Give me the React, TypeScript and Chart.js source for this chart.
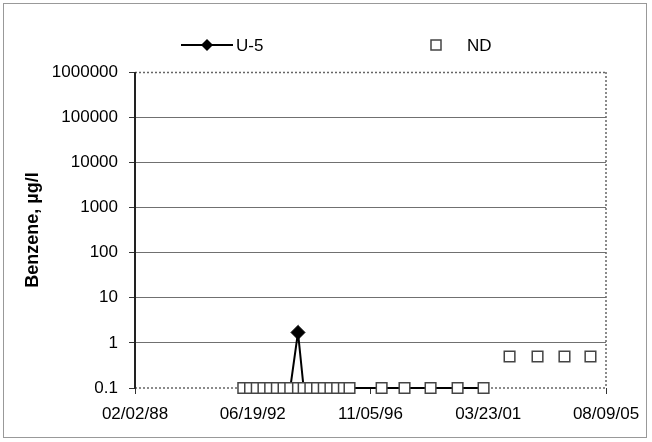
import React, { useEffect, useRef } from "react";
import { Chart, registerables } from "chart.js";

Chart.register(...registerables);

// ---- data ----
const xTickLabels = ["02/02/88", "06/19/92", "11/05/96", "03/23/01", "08/09/05"];
const yTickValues = [0.1, 1, 10, 100, 1000, 10000, 100000, 1000000];

const u5Dates = [
  "1992-02-12", "1992-05-14", "1992-08-13", "1992-11-12",
  "1993-02-11", "1993-05-13", "1993-08-12", "1993-11-11",
  "1994-02-24", "1994-05-12", "1994-08-11", "1994-11-10",
  "1995-02-09", "1995-05-11", "1995-08-10", "1995-11-09",
  "1996-01-25", "1997-04-05", "1998-02-10", "1999-01-30",
  "2000-02-01", "2001-01-19",
];
const u5Values = [
  0.1, 0.1, 0.1, 0.1,
  0.1, 0.1, 0.1, 0.1,
  1.7, 0.1, 0.1, 0.1,
  0.1, 0.1, 0.1, 0.1,
  0.1, 0.1, 0.1, 0.1,
  0.1, 0.1,
];

const ndDates = [
  "1992-02-12", "1992-05-14", "1992-08-13", "1992-11-12",
  "1993-02-11", "1993-05-13", "1993-08-12", "1993-11-11",
  "1994-02-24", "1994-05-12", "1994-08-11", "1994-11-10",
  "1995-02-09", "1995-05-11", "1995-08-10", "1995-11-09",
  "1996-01-25", "1997-04-05", "1998-02-10", "1999-01-30",
  "2000-02-01", "2001-01-19",
  "2002-01-07", "2003-01-22", "2004-01-23", "2005-01-10",
];
const ndValues = [
  0.1, 0.1, 0.1, 0.1,
  0.1, 0.1, 0.1, 0.1,
  0.1, 0.1, 0.1, 0.1,
  0.1, 0.1, 0.1, 0.1,
  0.1, 0.1, 0.1, 0.1,
  0.1, 0.1,
  0.5, 0.5, 0.5, 0.5,
];

// ---- helpers ----
const DAY = 86400000;
const isoToDays = (s: string) => {
  const [y, m, d] = s.split("-").map(Number);
  return Date.UTC(y, m - 1, d) / DAY;
};
const mdyToDays = (s: string) => {
  const [m, d, yy] = s.split("/").map(Number);
  const y = yy < 50 ? 2000 + yy : 1900 + yy;
  return Date.UTC(y, m - 1, d) / DAY;
};
const xTickValues = xTickLabels.map(mdyToDays);

const FONT = "'Liberation Sans', Arial, Helvetica, sans-serif";

const framePlugin = {
  id: "frameAndLegend",
  beforeDatasetsDraw(chart: any) {
    const { ctx, chartArea } = chart;
    const { left, right, top, bottom } = chartArea;
    ctx.save();
    // dotted top, right and bottom plot border
    ctx.strokeStyle = "#666";
    ctx.lineWidth = 1.5;
    ctx.setLineDash([2, 2]);
    ctx.beginPath();
    ctx.moveTo(left, top + 0.5);
    ctx.lineTo(right, top + 0.5);
    ctx.moveTo(right, top);
    ctx.lineTo(right, bottom);
    ctx.moveTo(left, bottom);
    ctx.lineTo(right, bottom);
    ctx.stroke();
    ctx.setLineDash([]);
    // solid left axis
    ctx.strokeStyle = "#222";
    ctx.lineWidth = 2;
    ctx.beginPath();
    ctx.moveTo(left, top);
    ctx.lineTo(left, bottom + 1);
    ctx.stroke();
    ctx.restore();
  },
  afterDraw(chart: any) {
    const { ctx } = chart;
    ctx.save();
    // outer chart border
    ctx.strokeStyle = "#999";
    ctx.lineWidth = 1;
    ctx.strokeRect(3.5, 3.5, 643, 434);

    // legend
    const ly = 45;
    ctx.strokeStyle = "#000";
    ctx.lineWidth = 2;
    ctx.beginPath();
    ctx.moveTo(181, ly);
    ctx.lineTo(233, ly);
    ctx.stroke();
    ctx.fillStyle = "#000";
    ctx.beginPath();
    ctx.moveTo(207, ly - 6);
    ctx.lineTo(213, ly);
    ctx.lineTo(207, ly + 6);
    ctx.lineTo(201, ly);
    ctx.closePath();
    ctx.fill();

    ctx.font = `17px ${FONT}`;
    ctx.textBaseline = "middle";
    ctx.textAlign = "left";
    ctx.fillText("U-5", 236, ly + 1);

    ctx.fillStyle = "#fff";
    ctx.strokeStyle = "#444";
    ctx.lineWidth = 1.5;
    ctx.beginPath();
    ctx.rect(431, ly - 5, 10, 10);
    ctx.fill();
    ctx.stroke();
    ctx.fillStyle = "#000";
    ctx.fillText("ND", 467, ly + 1);
    ctx.restore();
  },
};

export default function App() {
  const ref = useRef<HTMLCanvasElement | null>(null);

  useEffect(() => {
    document.body.style.margin = "0";
    const canvas = ref.current;
    if (!canvas) return;

    const chart = new Chart(canvas, {
      type: "line",
      data: {
        datasets: [
          {
            label: "U-5",
            data: u5Dates.map((d, i) => ({ x: isoToDays(d), y: u5Values[i] })),
            borderColor: "#000",
            backgroundColor: "#000",
            borderWidth: 2,
            pointStyle: "rectRot",
            pointRadius: u5Values.map((v) => (v > 0.1 ? 7 : 0)),
            pointBackgroundColor: "#000",
            pointBorderColor: "#000",
            pointBorderWidth: 1,
            tension: 0,
            clip: false,
            order: 2,
          } as any,
          {
            label: "ND",
            data: ndDates.map((d, i) => ({ x: isoToDays(d), y: ndValues[i] })),
            showLine: false,
            pointStyle: "rect",
            pointRadius: 7.5,
            pointBackgroundColor: "#fff",
            pointBorderColor: "#444",
            pointBorderWidth: 1.5,
            clip: false,
            order: 1,
          } as any,
        ],
      },
      options: {
        responsive: false,
        animation: false,
        devicePixelRatio: 1,
        layout: { padding: { top: 72, right: 46, bottom: 0, left: 0 } },
        plugins: {
          legend: { display: false },
          tooltip: { enabled: false },
        },
        scales: {
          x: {
            type: "linear",
            position: "bottom",
            min: xTickValues[0],
            max: xTickValues[xTickValues.length - 1],
            afterBuildTicks: (scale: any) => {
              scale.ticks = xTickValues.map((v) => ({ value: v }));
            },
            afterFit: (scale: any) => {
              scale.height = 54;
            },
            ticks: {
              autoSkip: false,
              maxRotation: 0,
              padding: 10,
              color: "#000",
              font: { family: FONT, size: 17 },
              callback: (v: any) => {
                const i = xTickValues.indexOf(Number(v));
                return i >= 0 ? xTickLabels[i] : "";
              },
            },
            grid: {
              drawOnChartArea: false,
              drawTicks: true,
              tickLength: 6,
              tickColor: "#333",
            },
            border: { display: false },
          },
          y: {
            type: "logarithmic",
            min: 0.1,
            max: 1000000,
            afterBuildTicks: (scale: any) => {
              scale.ticks = yTickValues.map((v) => ({ value: v }));
            },
            afterFit: (scale: any) => {
              scale.width = 135;
            },
            ticks: {
              padding: 11,
              color: "#000",
              font: { family: FONT, size: 17 },
              callback: (v: any) => {
                const n = Number(v);
                return n >= 1 ? String(Math.round(n)) : String(n);
              },
            },
            grid: {
              color: (c: any) =>
                c.tick && (c.tick.value === 0.1 || c.tick.value === 1000000)
                  ? "rgba(0,0,0,0)"
                  : "#707070",
              lineWidth: 1,
              tickLength: 6,
              tickColor: "#333",
            },
            border: { display: false },
            title: {
              display: true,
              text: "Benzene, µg/l",
              color: "#000",
              font: { family: FONT, size: 18, weight: "bold" },
              padding: { top: 22, bottom: 0 },
            },
          },
        },
      } as any,
      plugins: [framePlugin],
    });

    return () => chart.destroy();
  }, []);

  return (
    <div style={{ width: 652, height: 442 }}>
      <canvas ref={ref} width={652} height={442} />
    </div>
  );
}
